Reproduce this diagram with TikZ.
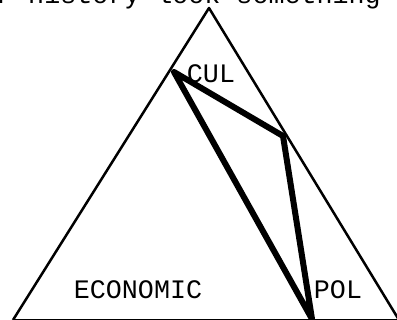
\documentclass[tikz,border=0pt]{standalone}
\usepackage{fontspec}
\setmonofont{Liberation Mono}
\begin{document}
\begin{tikzpicture}[x=1pt,y=1pt,
    edge/.style={line width=2.5pt, line join=round},
    heavy/.style={line width=6pt, line cap=round, line join=round},
    label/.style={font=\ttfamily\fontsize{26.7}{30}\selectfont, inner sep=0pt}]
  \useasboundingbox (0,0) rectangle (397,320);
  % Corners of the big triangle
  \coordinate (top) at (209,312);
  \coordinate (left) at (13,0);
  \coordinate (right) at (399,0);
  % Corners of the heavy path
  \coordinate (cul) at (174,248);
  \coordinate (mid) at (283,184);
  \coordinate (pol) at (312,1);
  % Draw the big triangle
  \draw[edge] (left) -- (top) -- (right);
  \draw[edge] (left) -- (right);
  % Draw the heavy path
  \draw[heavy] (cul) -- (pol) -- (mid) -- cycle;
  % Labels
  \node[label] (culname) at (211,246) {CUL};
  \node[label] (polname) at (338,30) {POL};
  \node[label] (econname) at (138,30) {ECONOMIC};
  % Line of text cut off above the figure
  \node[label, anchor=base west] (textline) at (-4,316.5) {r history look something like};
\end{tikzpicture}
\end{document}
